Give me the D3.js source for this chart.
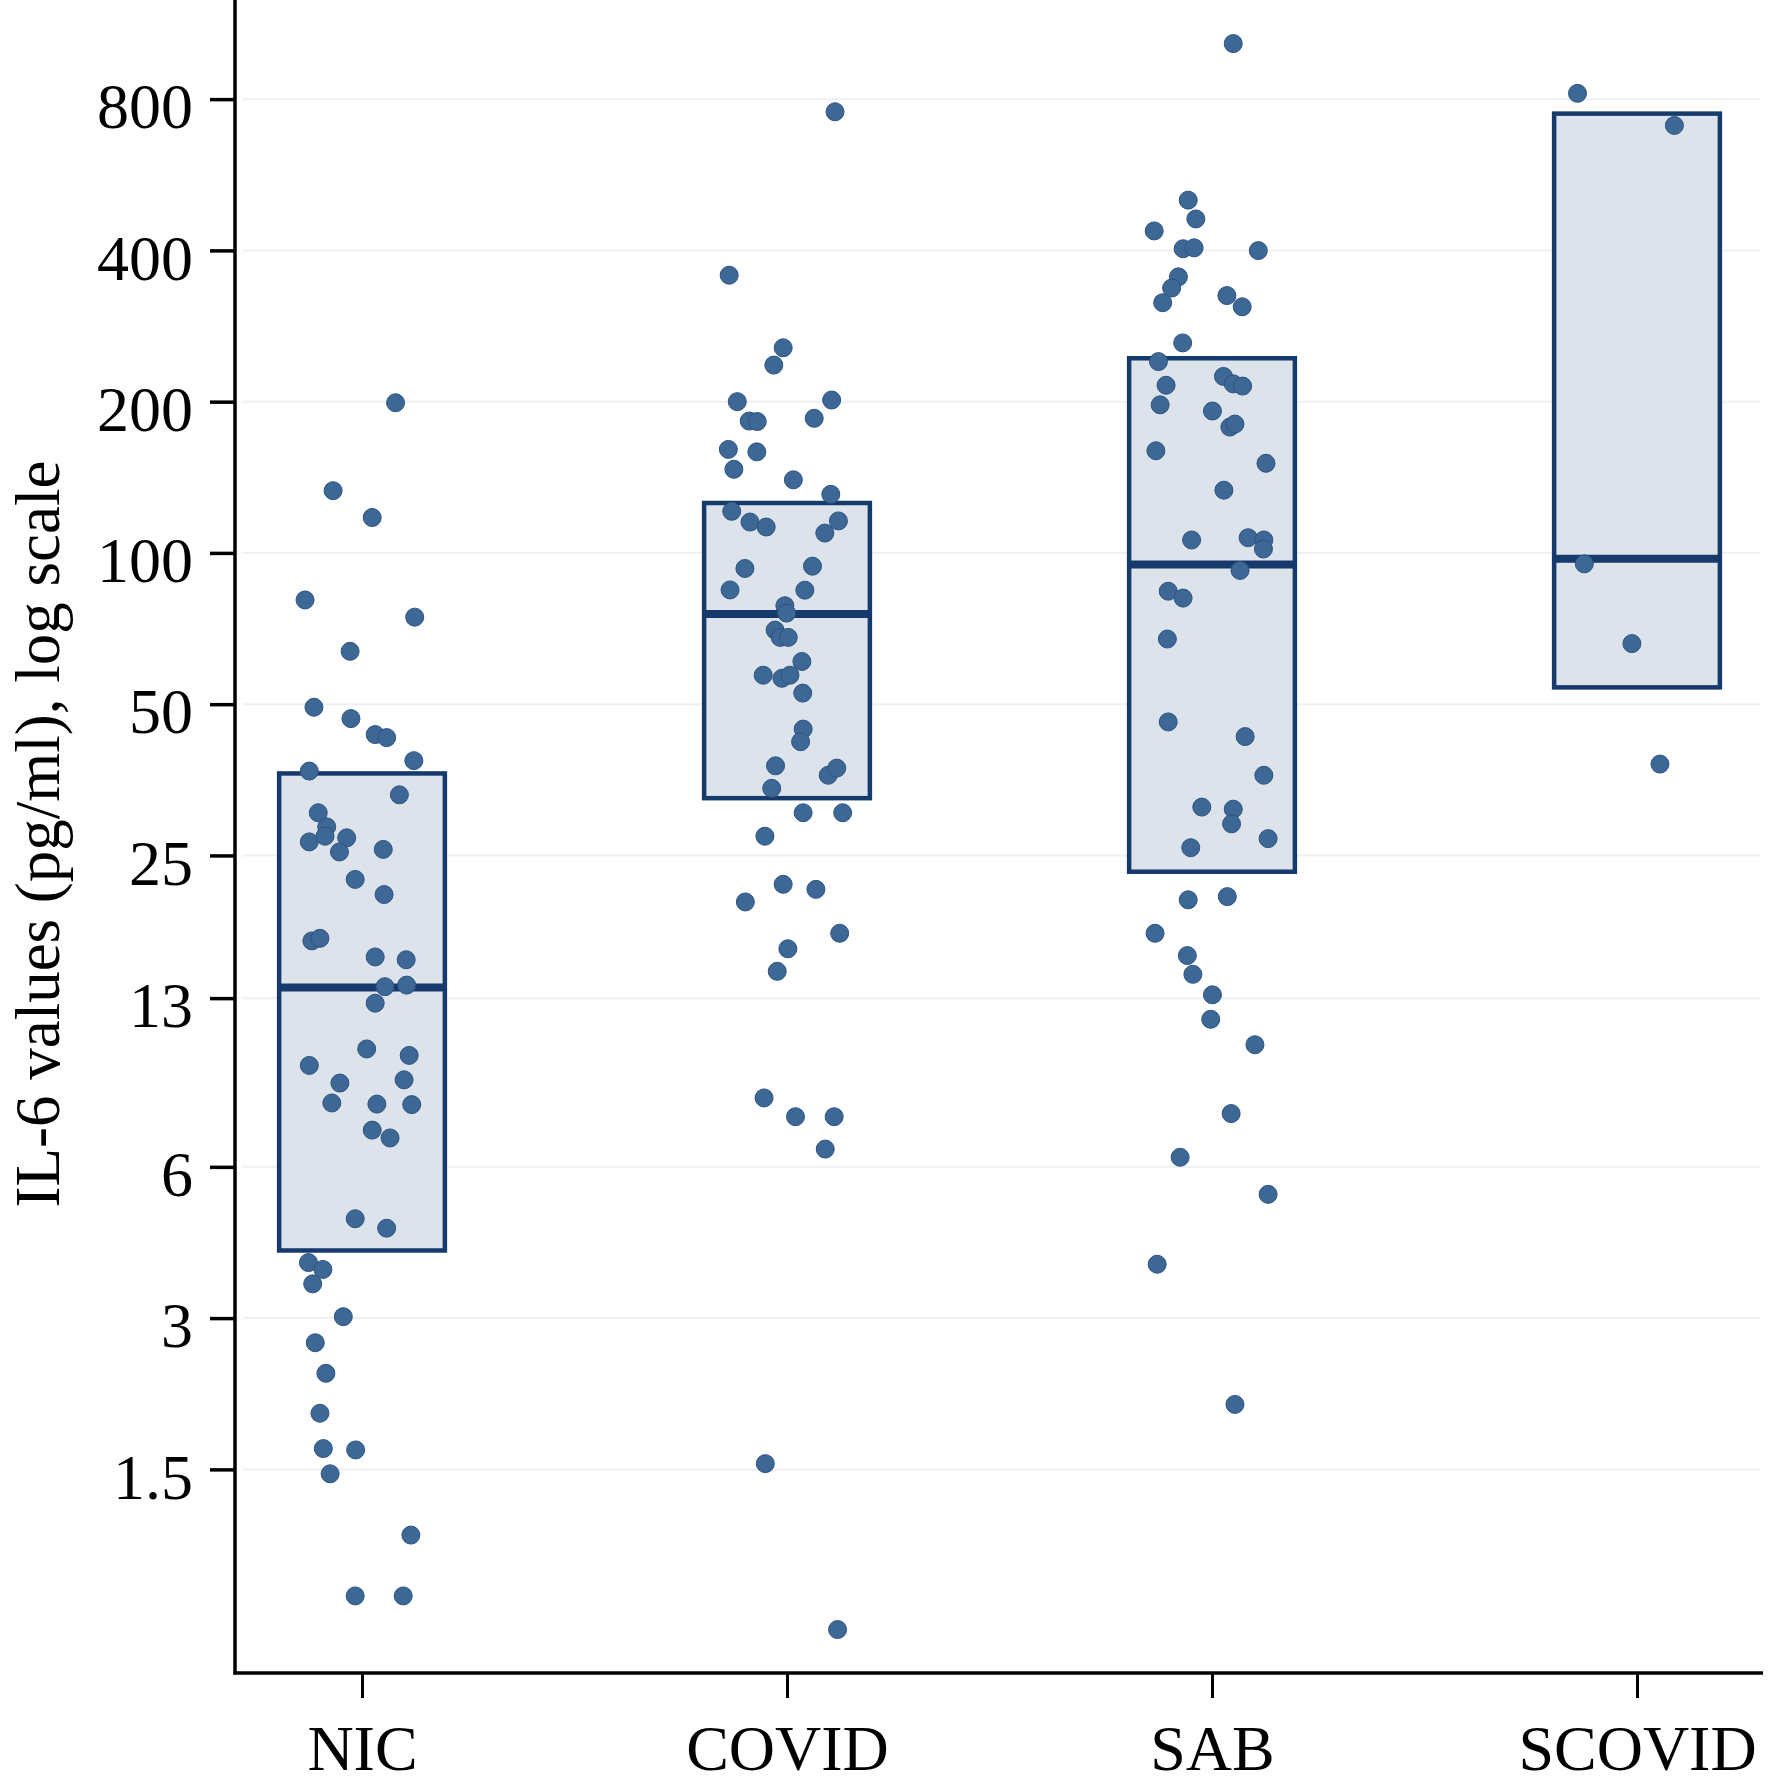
<!DOCTYPE html>
<html>
<head>
<meta charset="utf-8">
<script src="https://cdn.jsdelivr.net/npm/d3@7"></script>
<style>
  body { margin: 0; background: #fff; }
  text { font-family: "Liberation Serif", "Times New Roman", serif; }
</style>
</head>
<body>
<div id="chart"></div>
<script>
const categories = ["NIC", "COVID", "SAB", "SCOVID"];
const yTicks = [1.5, 3, 6, 13, 25, 50, 100, 200, 400, 800];
const yTitle = "IL-6 values (pg/ml), log scale";

// box summary per group: [q1, median, q3]
const boxLow = [4.09, 32.5, 23.2, 54.0];
const boxMedian = [13.65, 75.6, 94.8, 97.4];
const boxHigh = [36.4, 125.7, 244, 748.6];

// points: [jitter in category units, value pg/ml]
const nicPoints = [
  [0.079, 199], [-0.068, 133], [0.024, 117.6], [-0.134, 80.6], [0.124, 74.5],
  [-0.028, 63.7], [-0.113, 49.3], [-0.026, 46.8], [0.031, 43.5], [0.058, 42.9],
  [0.122, 38.6], [-0.124, 36.8], [0.088, 33.0], [-0.103, 30.4], [-0.083, 28.5],
  [-0.124, 26.6], [-0.087, 27.3], [-0.036, 27.1], [-0.053, 25.4], [0.050, 25.7],
  [-0.016, 22.4], [0.052, 20.9], [-0.118, 16.9], [-0.099, 17.1], [0.031, 15.7],
  [0.104, 15.5], [0.054, 13.7], [0.105, 13.8], [0.031, 12.7], [0.011, 10.3],
  [0.111, 10.0], [-0.124, 9.55], [-0.052, 8.81], [0.099, 8.94], [-0.071, 8.04],
  [0.035, 8.0], [0.117, 7.98], [0.024, 7.1], [0.066, 6.85], [-0.016, 4.73],
  [0.058, 4.53], [-0.126, 3.87], [-0.092, 3.75], [-0.116, 3.51], [-0.044, 3.02],
  [-0.110, 2.68], [-0.085, 2.33], [-0.099, 1.94], [-0.091, 1.65], [-0.015, 1.64],
  [-0.075, 1.47], [0.115, 1.11], [-0.016, 0.84], [0.097, 0.84]
];
const covidPoints = [
  [0.113, 755], [-0.136, 357], [-0.009, 256], [-0.031, 236.5], [-0.117, 200],
  [0.105, 201.5], [-0.089, 183], [-0.070, 182.6], [0.064, 185.3], [-0.138, 160.7],
  [-0.071, 158.9], [-0.125, 146.7], [0.015, 139.8], [0.103, 130.8], [-0.130, 121],
  [-0.087, 115.2], [-0.049, 112.6], [0.121, 115.8], [0.089, 109.5], [-0.099, 93.1],
  [0.060, 94.1], [-0.134, 84.4], [0.042, 84.3], [-0.005, 78.5], [-0.001, 75.9],
  [-0.028, 70.2], [-0.016, 67.9], [0.003, 67.9], [0.035, 60.8], [-0.056, 57.1],
  [-0.012, 56.3], [0.007, 57.1], [0.037, 52.6], [0.038, 44.6], [0.032, 42.1],
  [-0.027, 37.7], [-0.036, 34.0], [0.097, 36.1], [0.117, 37.3], [0.038, 30.4],
  [0.131, 30.4], [-0.052, 27.3], [-0.009, 21.9], [0.068, 21.4], [-0.098, 20.2],
  [0.124, 17.5], [0.002, 16.3], [-0.023, 14.7], [-0.054, 8.23], [0.020, 7.55],
  [0.111, 7.55], [0.090, 6.51], [-0.051, 1.54], [0.119, 0.72]
];
const sabPoints = [
  [0.050, 1032], [-0.056, 503.6], [-0.038, 462], [-0.136, 437.3], [-0.068, 403],
  [-0.042, 404.7], [0.109, 399.6], [-0.079, 354.3], [-0.095, 336.6], [-0.116, 314.7],
  [0.035, 325.2], [0.071, 308.9], [-0.069, 261.8], [-0.126, 240.3], [-0.108, 215.6],
  [0.027, 224.5], [0.050, 217], [0.072, 214.8], [-0.122, 197.1], [0.001, 191.6],
  [0.042, 178], [0.054, 180.5], [-0.132, 159.7], [0.127, 150.8], [0.028, 133.3],
  [-0.048, 106.1], [0.085, 107.2], [0.122, 106.1], [0.121, 101.8], [0.066, 92.3],
  [-0.103, 83.9], [-0.068, 81.3], [-0.105, 67.4], [-0.103, 46.1], [0.078, 43.1],
  [0.122, 36.1], [-0.024, 31.2], [0.050, 30.9], [0.046, 28.9], [0.132, 27.0],
  [-0.050, 25.9], [-0.056, 20.4], [0.036, 20.7], [-0.134, 17.5], [-0.058, 15.8],
  [-0.045, 14.5], [0.001, 13.2], [-0.003, 11.8], [0.101, 10.5], [0.045, 7.66],
  [-0.075, 6.27], [0.132, 5.29], [-0.129, 3.84], [0.054, 2.02]
];
const scovidPoints = [
  [-0.140, 821.5], [0.088, 709], [-0.124, 95.1], [-0.012, 66.0], [0.054, 38.0]
];
const groupPoints = [nicPoints, covidPoints, sabPoints, scovidPoints];

const width = 1772;
const height = 1791;
const axisX = 235;
const axisY = 1673;
const boxHalf = 0.195;

const ink = "#000";
const boxStroke = "#163a6c";
const boxFill = "#dde3eb";
const dotFill = "#3d6794";
const dotStroke = "#2c5382";
const gridColor = "#edf0f5";

const svg = d3
  .select("#chart")
  .append("svg")
  .attr("width", width)
  .attr("height", height);

const x = d3.scaleLinear().domain([0, 3]).range([362, 1637]);
const y = d3.scaleLog().domain([0.59, 1260]).range([axisY, 0]);

/* grid */
svg
  .append("g")
  .selectAll("line")
  .data(yTicks)
  .enter()
  .append("line")
  .attr("x1", axisX + 8)
  .attr("x2", 1760)
  .attr("y1", (d) => y(d))
  .attr("y2", (d) => y(d))
  .style("stroke", gridColor)
  .style("stroke-width", 2);

/* boxes */
const boxes = svg
  .append("g")
  .selectAll("g")
  .data(categories)
  .enter()
  .append("g");

boxes
  .append("rect")
  .attr("x", (d, i) => x(i - boxHalf))
  .attr("width", (d, i) => x(i + boxHalf) - x(i - boxHalf))
  .attr("y", (d, i) => y(boxHigh[i]))
  .attr("height", (d, i) => y(boxLow[i]) - y(boxHigh[i]))
  .style("fill", boxFill)
  .style("stroke", boxStroke)
  .style("stroke-width", 4.5);

boxes
  .append("line")
  .attr("x1", (d, i) => x(i - boxHalf))
  .attr("x2", (d, i) => x(i + boxHalf))
  .attr("y1", (d, i) => y(boxMedian[i]))
  .attr("y2", (d, i) => y(boxMedian[i]))
  .style("stroke", boxStroke)
  .style("stroke-width", 8);

/* points */
svg
  .append("g")
  .selectAll("g")
  .data(groupPoints)
  .enter()
  .append("g")
  .each(function (pts, i) {
    d3.select(this)
      .selectAll("circle")
      .data(pts)
      .enter()
      .append("circle")
      .attr("cx", (d) => x(i + d[0]))
      .attr("cy", (d) => y(d[1]))
      .attr("r", 9)
      .style("fill", dotFill)
      .style("stroke", dotStroke)
      .style("stroke-width", 1);
  });

/* axes */
const yAxis = d3
  .axisLeft(y)
  .tickValues(yTicks)
  .tickFormat((d) => d)
  .tickSize(25)
  .tickPadding(17);

const gy = svg
  .append("g")
  .attr("transform", `translate(${axisX},0)`)
  .call(yAxis);
gy.select(".domain").remove();
gy.selectAll(".tick line").style("stroke", ink).style("stroke-width", 3.5);
gy.selectAll(".tick text")
  .attr("dy", "0.45em")
  .style("font-size", "64px")
  .style("font-family", '"Liberation Serif", serif')
  .style("fill", ink);

const xAxis = d3
  .axisBottom(x)
  .tickValues([0, 1, 2, 3])
  .tickFormat((d) => categories[d])
  .tickSize(25)
  .tickPadding(27);

const gx = svg
  .append("g")
  .attr("transform", `translate(0,${axisY})`)
  .call(xAxis);
gx.select(".domain").remove();
gx.selectAll(".tick line").style("stroke", ink).style("stroke-width", 3);
gx.selectAll(".tick text")
  .style("font-size", "64px")
  .style("font-family", '"Liberation Serif", serif')
  .style("fill", ink);

svg
  .append("line")
  .attr("x1", axisX)
  .attr("x2", axisX)
  .attr("y1", 0)
  .attr("y2", axisY + 1.5)
  .style("stroke", ink)
  .style("stroke-width", 3.5);

svg
  .append("line")
  .attr("x1", axisX - 1.5)
  .attr("x2", 1763)
  .attr("y1", axisY)
  .attr("y2", axisY)
  .style("stroke", ink)
  .style("stroke-width", 3.5);

svg
  .append("text")
  .attr("transform", `translate(59, 834) rotate(-90)`)
  .attr("text-anchor", "middle")
  .style("font-size", "63px")
  .style("fill", ink)
  .text(yTitle);
</script>
</body>
</html>
